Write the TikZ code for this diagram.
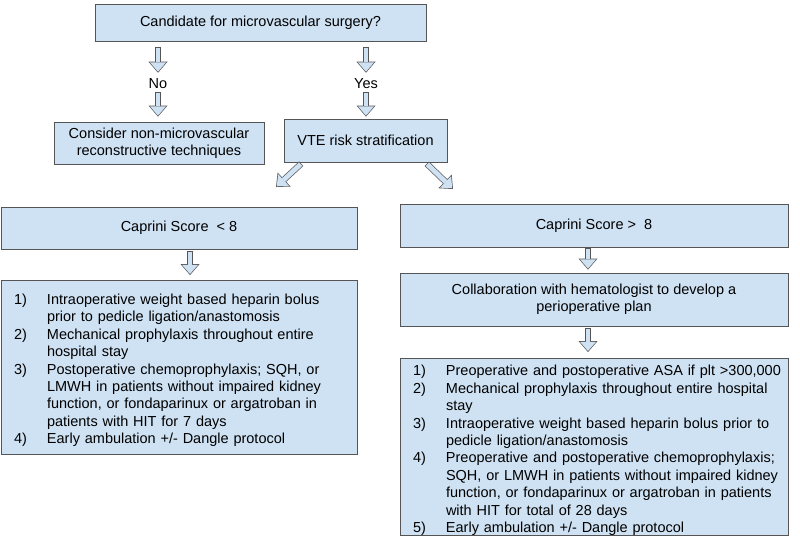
\documentclass[tikz,border=0pt]{standalone}
\usepackage{fontspec}
\setmainfont{Liberation Sans}
\usetikzlibrary{arrows.meta,calc}
\definecolor{boxfill}{RGB}{207,226,243}
\definecolor{boxline}{RGB}{85,85,85}
\setlength{\parskip}{0pt}
\newcommand{\planitem}[2]{\par\hangindent=33pt\hangafter=1\noindent\makebox[33pt][l]{#1}#2}
\begin{document}
\begin{tikzpicture}[x=1pt,y=-1pt,
  font=\fontsize{14.5}{17.4}\selectfont,
  flowbox/.style={draw=boxline, line width=0.8pt, fill=boxfill, align=center, inner sep=0pt},
  planbox/.style={flowbox, align=left, inner xsep=13pt, inner ysep=0pt, execute at begin node=\setlength{\parskip}{0pt}},
  answer/.style={inner sep=0pt, text height=10.5pt, text depth=0pt},
  blockarrow/.style 2 args={preaction={draw=boxline, line width=6.2pt, shorten <=#1, shorten >=#2,
      -{Triangle[length=11pt,width=19pt,line width=0pt]}},
    draw=boxfill, line width=4.8pt, shorten <=#1+0.7pt, shorten >=#2+1.07pt,
    -{Triangle[length=9.2pt,width=16pt,line width=0pt]}}]

\useasboundingbox (0,0) rectangle (800,543);

\node[flowbox, minimum width=331pt, minimum height=37pt] (cand) at (260.5,22.5) {Candidate for microvascular surgery?};
\node[answer] (no) at (158,83) {No};
\node[answer] (yes) at (366,83) {Yes};
\node[flowbox, minimum width=210pt, minimum height=42pt] (nonmicro) at (159,143) {Consider non-microvascular\\reconstructive techniques};
\node[flowbox, minimum width=163pt, minimum height=43pt] (vte) at (365.5,140.5) {VTE risk stratification};

\node[flowbox, minimum width=356pt, minimum height=42pt] (lowscore) at (179,228) {Caprini Score\ \ < 8};
\node[flowbox, minimum width=388pt, minimum height=43pt] (highscore) at (594,225.5) {Caprini Score >\ \ 8};
\node[flowbox, minimum width=388pt, minimum height=53pt] (hemat) at (594,299.5) {Collaboration with hematologist to develop a\\perioperative plan};

\node[planbox, text width=330pt, minimum height=174pt] (lowplan) at (179,367) {%
\planitem{1)}{\mbox{Intraoperative weight based heparin bolus}\newline \mbox{prior to pedicle ligation/anastomosis}}
\planitem{2)}{\mbox{Mechanical prophylaxis throughout entire}\newline \mbox{hospital stay}}
\planitem{3)}{\mbox{Postoperative chemoprophylaxis; SQH, or}\newline \mbox{LMWH in patients without impaired kidney}\newline \mbox{function, or fondaparinux or argatroban in}\newline \mbox{patients with HIT for 7 days}}
\planitem{4)}{\mbox{Early ambulation +/- Dangle protocol}}};

\node[planbox, text width=362pt, minimum height=176pt] (highplan) at (594,447) {%
\planitem{1)}{\mbox{Preoperative and postoperative ASA if plt >300,000}}
\planitem{2)}{\mbox{Mechanical prophylaxis throughout entire hospital}\newline \mbox{stay}}
\planitem{3)}{\mbox{Intraoperative weight based heparin bolus prior to}\newline \mbox{pedicle ligation/anastomosis}}
\planitem{4)}{\mbox{Preoperative and postoperative chemoprophylaxis;}\newline \mbox{SQH, or LMWH in patients without impaired kidney}\newline \mbox{function, or fondaparinux or argatroban in patients}\newline \mbox{with HIT for total of 28 days}}
\planitem{5)}{\mbox{Early ambulation +/- Dangle protocol}}};

\coordinate (lowtip) at (276,187);
\coordinate (hightip) at (453,189);

\draw[blockarrow={6pt}{4.8pt}] (no |- cand.south) -- (no.north);
\draw[blockarrow={3.8pt}{5pt}] (no.south) -- (no |- nonmicro.north);
\draw[blockarrow={6pt}{4.8pt}] (yes |- cand.south) -- (yes.north);
\draw[blockarrow={3.8pt}{2pt}] (yes.south) -- (yes |- vte.north);

\draw[blockarrow={2pt}{0pt}] ([xshift=19pt]vte.south west) -- (lowtip);
\draw[blockarrow={2pt}{0pt}] ([xshift=-22pt]vte.south east) -- (hightip);

\draw[blockarrow={2pt}{4.5pt}] ([xshift=11pt]lowscore.south) -- ([xshift=11pt]lowplan.north);
\draw[blockarrow={0.5pt}{3pt}] ([xshift=-6pt]highscore.south) -- ([xshift=-6pt]hemat.north);
\draw[blockarrow={2pt}{6pt}] ([xshift=-6pt]hemat.south) -- ([xshift=-6pt]highplan.north);

\end{tikzpicture}
\end{document}
